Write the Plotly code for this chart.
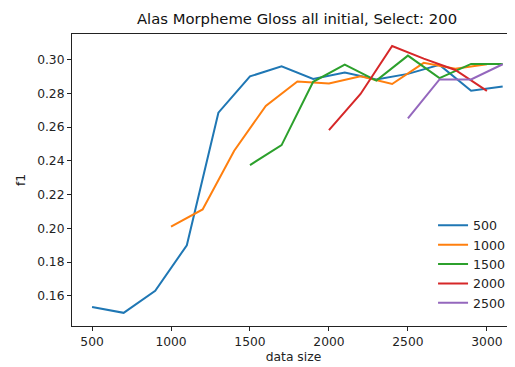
import plotly.graph_objects as go

# data sizes per series
x_500 = [500, 700, 900, 1100, 1300, 1500, 1700, 1900, 2100, 2300, 2500, 2700, 2900, 3100]
y_500 = [0.1535, 0.1500, 0.1630, 0.1900, 0.2685, 0.2900, 0.2960, 0.2885, 0.2923, 0.2882, 0.2915, 0.2968, 0.2815, 0.2840]

x_1000 = [1000, 1200, 1400, 1600, 1800, 2000, 2200, 2400, 2600, 2800, 3000]
y_1000 = [0.2010, 0.2112, 0.2460, 0.2725, 0.2870, 0.2858, 0.2900, 0.2855, 0.2980, 0.2945, 0.2972]

x_1500 = [1500, 1700, 1900, 2100, 2300, 2500, 2700, 2900, 3100]
y_1500 = [0.2375, 0.2493, 0.2868, 0.2970, 0.2875, 0.3023, 0.2890, 0.2974, 0.2974]

x_2000 = [2000, 2200, 2400, 2600, 2800, 3000]
y_2000 = [0.2582, 0.2796, 0.3080, 0.3005, 0.2938, 0.2814]

x_2500 = [2500, 2700, 2900, 3100]
y_2500 = [0.2652, 0.2882, 0.2882, 0.2972]

series_names = ["500", "1000", "1500", "2000", "2500"]
colors = ["#1f77b4", "#ff7f0e", "#2ca02c", "#d62728", "#9467bd"]

xs = [x_500, x_1000, x_1500, x_2000, x_2500]
ys = [y_500, y_1000, y_1500, y_2000, y_2500]

x_ticks = [500, 1000, 1500, 2000, 2500, 3000]
y_ticks = [0.16, 0.18, 0.20, 0.22, 0.24, 0.26, 0.28, 0.30]

FONT = "DejaVu Sans"
FS = 12.3

fig = go.Figure()
for name, c, x, y in zip(series_names, colors, xs, ys):
    fig.add_trace(go.Scatter(x=x, y=y, mode="lines", name=name,
                             line=dict(color=c, width=2)))

# page body has an 8px default margin, so the figure is sized/placed to compensate
W, H = 507, 359
fig.update_layout(
    width=W, height=H,
    margin=dict(l=64, r=0, t=26, b=41),
    paper_bgcolor="white", plot_bgcolor="white",
    font=dict(family=FONT, size=FS, color="#222"),
    title=dict(text="Alas Morpheme Gloss all initial, Select: 200",
               x=289 / W, xref="container", xanchor="center",
               y=1 - 11 / H, yref="container", yanchor="middle",
               font=dict(family=FONT, size=14.8, color="#111")),
    showlegend=True,
    legend=dict(x=0.815, xanchor="left", y=0.395, yanchor="top",
                bgcolor="rgba(0,0,0,0)", borderwidth=0,
                font=dict(family=FONT, size=12.6, color="#222"),
                itemwidth=30, tracegroupgap=0),
)
fig.update_xaxes(
    range=[373, 3178], tickvals=x_ticks, ticktext=[str(v) for v in x_ticks],
    showgrid=False, zeroline=False,
    showline=True, linecolor="#222", linewidth=1, mirror=True,
    ticks="outside", ticklen=4, tickcolor="#222",
    tickfont=dict(family=FONT, size=FS, color="#222"),
    title=dict(text="data size", font=dict(family=FONT, size=FS), standoff=4),
)
fig.update_yaxes(
    range=[0.1422, 0.3151], tickvals=y_ticks, ticktext=[f"{v:.2f}" for v in y_ticks],
    showgrid=False, zeroline=False,
    showline=True, linecolor="#222", linewidth=1, mirror=False,
    ticks="outside", ticklen=4, tickcolor="#222",
    tickfont=dict(family=FONT, size=FS, color="#222"),
    title=dict(text="f1", font=dict(family=FONT, size=FS), standoff=8),
)

fig.write_html("out.html")
